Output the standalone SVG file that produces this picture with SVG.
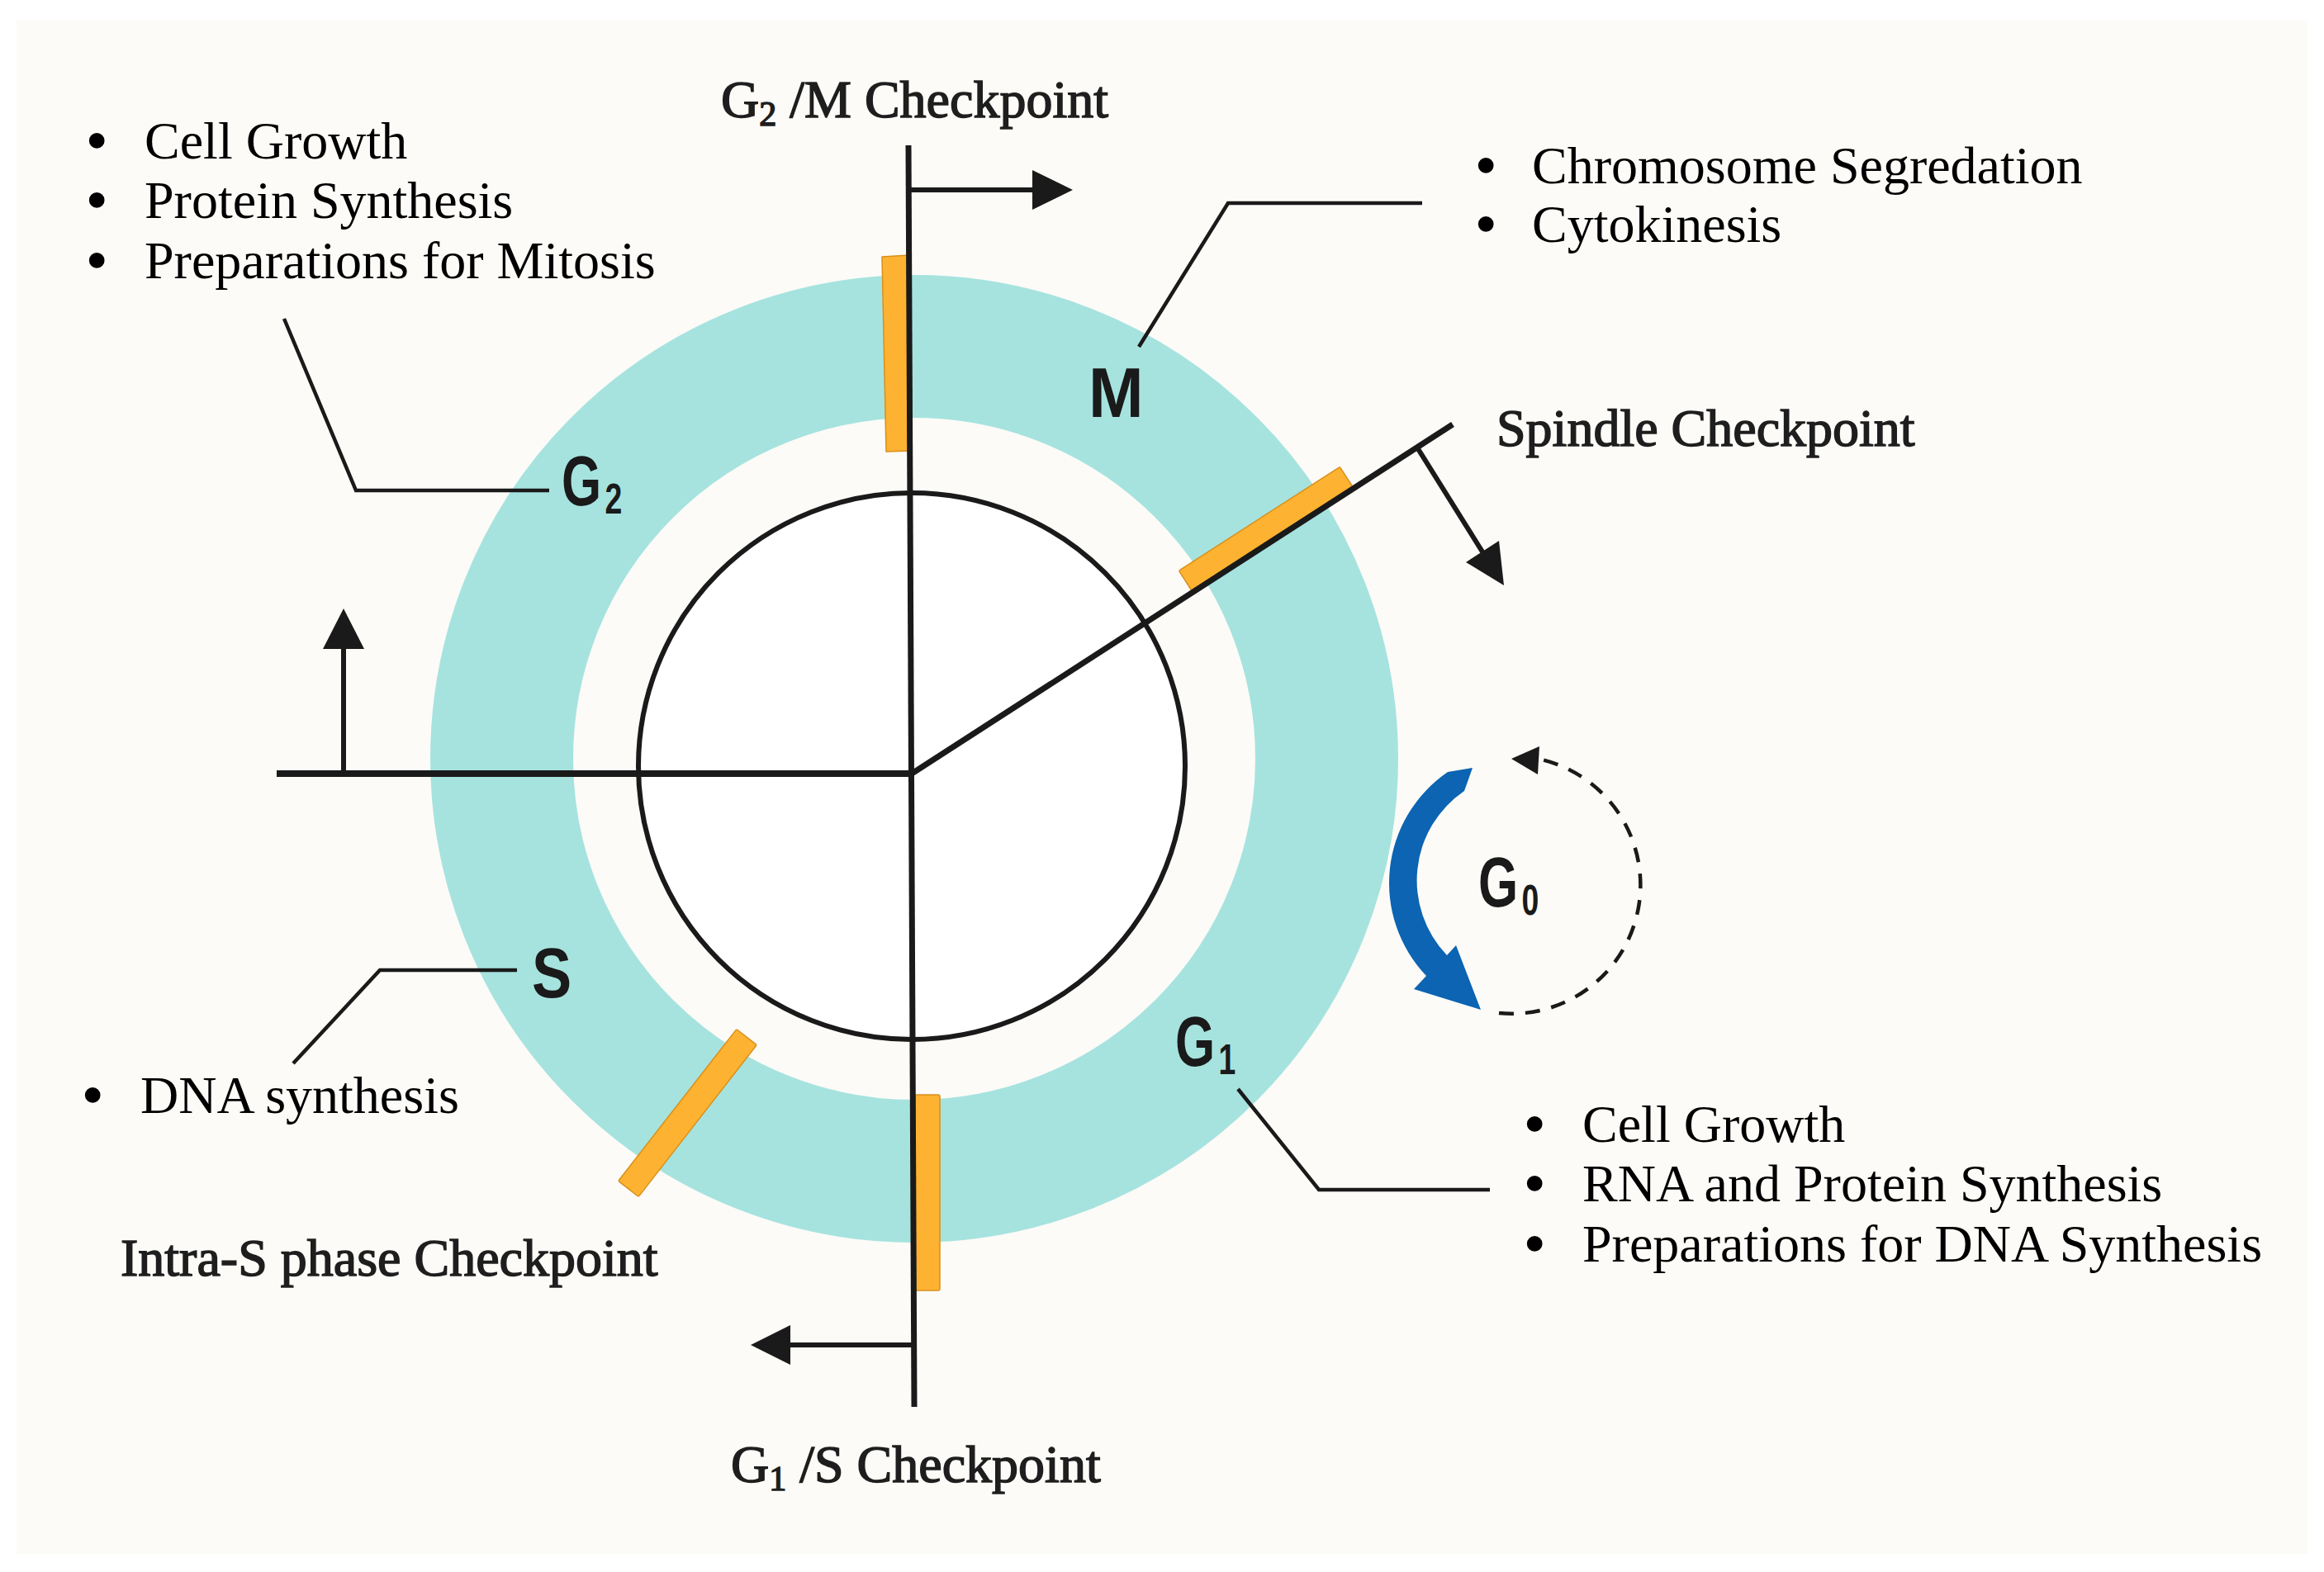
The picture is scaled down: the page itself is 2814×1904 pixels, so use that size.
<svg xmlns="http://www.w3.org/2000/svg" width="2814" height="1904" viewBox="0 0 2814 1904">
<defs>
<style>
.txt{font-family:"Liberation Serif","Times New Roman",serif;font-size:64px;fill:#000}
.b{stroke:#000;stroke-width:3.5px}
.ck{font-family:"Liberation Serif","Times New Roman",serif;font-size:64px;fill:#1e1e1e;stroke:#1e1e1e;stroke-width:1.5px}
.ph{font-family:"Liberation Sans",Arial,sans-serif;font-weight:bold;font-size:86px;fill:#1a1a1a}
.ln{stroke:#1a1a1a;fill:none}
.lead{stroke:#1a1a1a;stroke-width:4.5;fill:none;stroke-linejoin:miter}
.cp{fill:#FDB331;stroke:#D8901C;stroke-width:1.5;stroke-linejoin:round}
.ah{fill:#1a1a1a}
</style>
</defs>
<rect width="2814" height="1904" fill="#ffffff"/>
<rect x="20" y="24" width="2774" height="1858" fill="#FCFBF7"/>

<g id="cycle-ring">
<circle cx="1107" cy="919" r="499.5" fill="none" stroke="#A6E3DF" stroke-width="173"/>
</g>
<g id="cell">
<circle cx="1104" cy="928" r="331" fill="#ffffff" stroke="#1a1a1a" stroke-width="6"/>
</g>

<g id="checkpoint-bars">
<polygon id="bar-g2m" class="cp" points="1068,311 1101,309 1103,546 1073,547"/>
<rect id="bar-g1s" class="cp" x="1108" y="1326" width="30" height="237" rx="2"/>
<rect id="bar-intraS" class="cp" x="-116.5" y="-15.5" width="233" height="31" rx="2" transform="translate(832.5,1348) rotate(-52.1)"/>
<rect id="bar-spindle" class="cp" x="405" y="-31" width="232" height="32" rx="2" transform="translate(1104,937) rotate(-32.85)"/>
</g>

<g id="connectors">
<line class="ln" x1="1100" y1="176" x2="1107" y2="1704" stroke-width="7"/>
<line class="ln" x1="335" y1="937" x2="1104" y2="937" stroke-width="8"/>
<line class="ln" x1="1104" y1="937" x2="1759" y2="514" stroke-width="7"/>
<line class="ln" x1="1101" y1="230" x2="1252" y2="230" stroke-width="6"/>
<polygon class="ah" points="1250,206 1299,230 1250,254"/>
<line class="ln" x1="1106" y1="1629" x2="955" y2="1629" stroke-width="6"/>
<polygon class="ah" points="957,1605 909,1629 957,1653"/>
<line class="ln" x1="416" y1="937" x2="416" y2="784" stroke-width="6"/>
<polygon class="ah" points="391,786 416,737 441,786"/>
<line class="ln" x1="1716" y1="542" x2="1796" y2="670" stroke-width="6"/>
<polygon class="ah" points="1815,655 1821,709 1775,681"/>
<polyline class="lead" points="344,386 431,594 665,594"/>
<polyline class="lead" points="1379,420 1487,246 1722,246"/>
<polyline class="lead" points="626,1175 460,1175 355,1288"/>
<polyline class="lead" points="1499,1319 1597,1441 1804,1441"/>
</g>

<g id="g0-loop">
<path d="M1753,935 L1783,930 L1773,958 A131,131 0 0,0 1752,1157 L1763,1145 L1793,1223 L1712,1198 L1727,1182 A163,163 0 0,1 1753,935 Z" fill="#0C64B2"/>
<path d="M1815,1227 A156,156 0 0,0 1862,919" fill="none" stroke="#1a1a1a" stroke-width="4.5" stroke-dasharray="18 14"/>
<polygon class="ah" points="1830,919 1864,904 1862,938"/>
</g>

<g id="label-M">
<text class="ph" transform="translate(1318,505) scale(0.93,1)">M</text>
</g>
<g id="label-G2">
<text class="ph" transform="translate(680,612) scale(0.72,1)">G<tspan font-size="52" dx="6" dy="10">2</tspan></text>
</g>
<g id="label-S">
<text class="ph" transform="translate(644,1208) scale(0.84,1)">S</text>
</g>
<g id="label-G1">
<text class="ph" transform="translate(1423,1291) scale(0.72,1)">G<tspan font-size="52" dx="6" dy="10">1</tspan></text>
</g>
<g id="label-G0">
<text class="ph" transform="translate(1790,1098) scale(0.72,1)">G<tspan font-size="52" dx="6" dy="10">0</tspan></text>
</g>

<g id="checkpoint-g2m">
<text class="ck" x="873" y="142">G<tspan font-size="42" dy="10">2</tspan><tspan dy="-10"> /M Checkpoint</tspan></text>
</g>
<g id="checkpoint-g1s">
<text class="ck" x="885" y="1795">G<tspan font-size="42" dy="10">1</tspan><tspan dy="-10"> /S Checkpoint</tspan></text>
</g>
<g id="checkpoint-spindle">
<text class="ck" x="1812" y="540">Spindle Checkpoint</text>
</g>
<g id="checkpoint-intraS">
<text class="ck" x="146" y="1545">Intra-S phase Checkpoint</text>
</g>

<g id="list-g2">
<text class="txt" y="192"><tspan class="b" x="106">•</tspan><tspan x="175">Cell Growth</tspan></text>
<text class="txt" y="264"><tspan class="b" x="106">•</tspan><tspan x="175">Protein Synthesis</tspan></text>
<text class="txt" y="337"><tspan class="b" x="106">•</tspan><tspan x="175">Preparations for Mitosis</tspan></text>
</g>
<g id="list-m">
<text class="txt" y="222"><tspan class="b" x="1788">•</tspan><tspan x="1855">Chromosome Segredation</tspan></text>
<text class="txt" y="293"><tspan class="b" x="1788">•</tspan><tspan x="1855">Cytokinesis</tspan></text>
</g>
<g id="list-s">
<text class="txt" y="1348"><tspan class="b" x="101">•</tspan><tspan x="170">DNA synthesis</tspan></text>
</g>
<g id="list-g1">
<text class="txt" y="1383"><tspan class="b" x="1847">•</tspan><tspan x="1916">Cell Growth</tspan></text>
<text class="txt" y="1455"><tspan class="b" x="1847">•</tspan><tspan x="1916">RNA and Protein Synthesis</tspan></text>
<text class="txt" y="1528"><tspan class="b" x="1847">•</tspan><tspan x="1916">Preparations for DNA Synthesis</tspan></text>
</g>
</svg>
